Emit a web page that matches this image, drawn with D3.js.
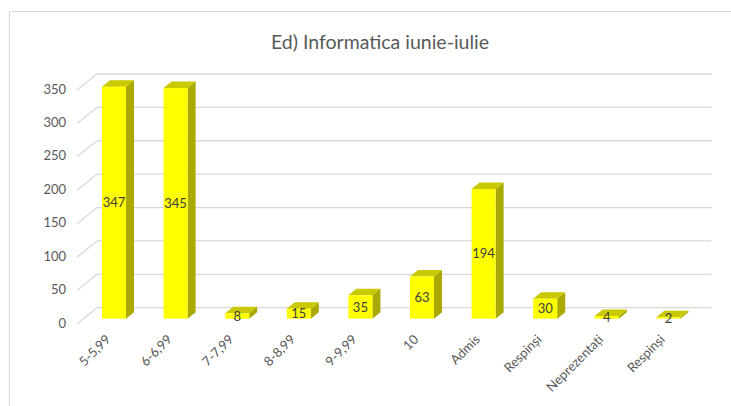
<!DOCTYPE html>
<html><head><meta charset="utf-8">
<script src="https://cdn.jsdelivr.net/npm/d3@7"></script>
<style>body{margin:0;background:#fff;}svg{display:block;font-family:Lato, "Open Sans", sans-serif;}</style>
</head><body>
<svg id="c" width="731" height="406"></svg>
<script>
const title = "Ed) Informatica iunie-iulie";
const categories = ["5-5,99","6-6,99","7-7,99","8-8,99","9-9,99","10","Admis","Respinși","Neprezentați","Respinși"];
const values = [347,345,8,15,35,63,194,30,4,2];
const yTicks = [0,50,100,150,200,250,300,350];

const svg = d3.select("#c");
// chart frame
svg.append("rect").attr("x",9.5).attr("y",11.5).attr("width",760).attr("height",420)
  .attr("fill","#fff").attr("stroke","#d9d9d9");

svg.append("text").attr("x",380).attr("y",49).attr("text-anchor","middle")
  .attr("font-size",19.5).attr("fill","#595959").text(title);

const idx = d3.range(categories.length);
const x = d3.scaleBand().domain(idx).range([83.2,699.2]).paddingInner(0.61).paddingOuter(0.305);
const yBack = d3.scaleLinear().domain([0,350]).range([307.7,74]);
const yFront = d3.scaleLinear().domain([0,350]).range([324,90]);
const yBar = d3.scaleLinear().domain([0,350]).range([318.7,84.7]);
const dx = 8, dy = 6.5;

const grid = svg.append("g").attr("stroke","#d9d9d9").attr("stroke-width",1.3).attr("fill","none");
yTicks.forEach(t=>{
  grid.append("line").attr("x1",77).attr("y1",yFront(t)).attr("x2",97).attr("y2",yBack(t));
  grid.append("line").attr("x1",97).attr("y1",yBack(t)).attr("x2",711.5).attr("y2",yBack(t));
});

svg.append("g").selectAll("text").data(yTicks).join("text")
  .attr("x",66).attr("y",t=>yFront(t)-1).attr("dy","0.35em").attr("text-anchor","end")
  .attr("font-size",13).attr("fill","#595959").text(d=>d);

const bars = svg.append("g").selectAll("g").data(idx).join("g");
const bw = x.bandwidth();
bars.append("path").attr("fill","#a9a900").attr("d",i=>{
  const x1 = x(i)+bw, y0 = yBar(0), y1 = yBar(values[i]);
  return `M${x1},${y0}L${x1+dx},${y0-dy}L${x1+dx},${y1-dy}L${x1},${y1}Z`;
});
bars.append("path").attr("fill","#c9c900").attr("d",i=>{
  const x0 = x(i), y1 = yBar(values[i]);
  return `M${x0},${y1}L${x0+dx},${y1-dy}L${x0+bw+dx},${y1-dy}L${x0+bw},${y1}Z`;
});
bars.append("rect").attr("fill","#ffff00").attr("x",i=>x(i)).attr("width",bw)
  .attr("y",i=>yBar(values[i])).attr("height",i=>yBar(0)-yBar(values[i]));
bars.append("text").attr("x",i=>x(i)+bw/2).attr("y",i=>(yBar(0)+yBar(values[i]))/2)
  .attr("dy","0.35em").attr("text-anchor","middle").attr("font-size",13).attr("fill","#404040")
  .text(i=>values[i]);

svg.append("g").selectAll("text").data(idx).join("text")
  .attr("transform",i=>`translate(${x(i)+bw/2-6},${337}) rotate(-45)`)
  .attr("text-anchor","end").attr("dy","0.35em").attr("font-size",13).attr("fill","#595959")
  .text(i=>categories[i]);
</script>
</body></html>
